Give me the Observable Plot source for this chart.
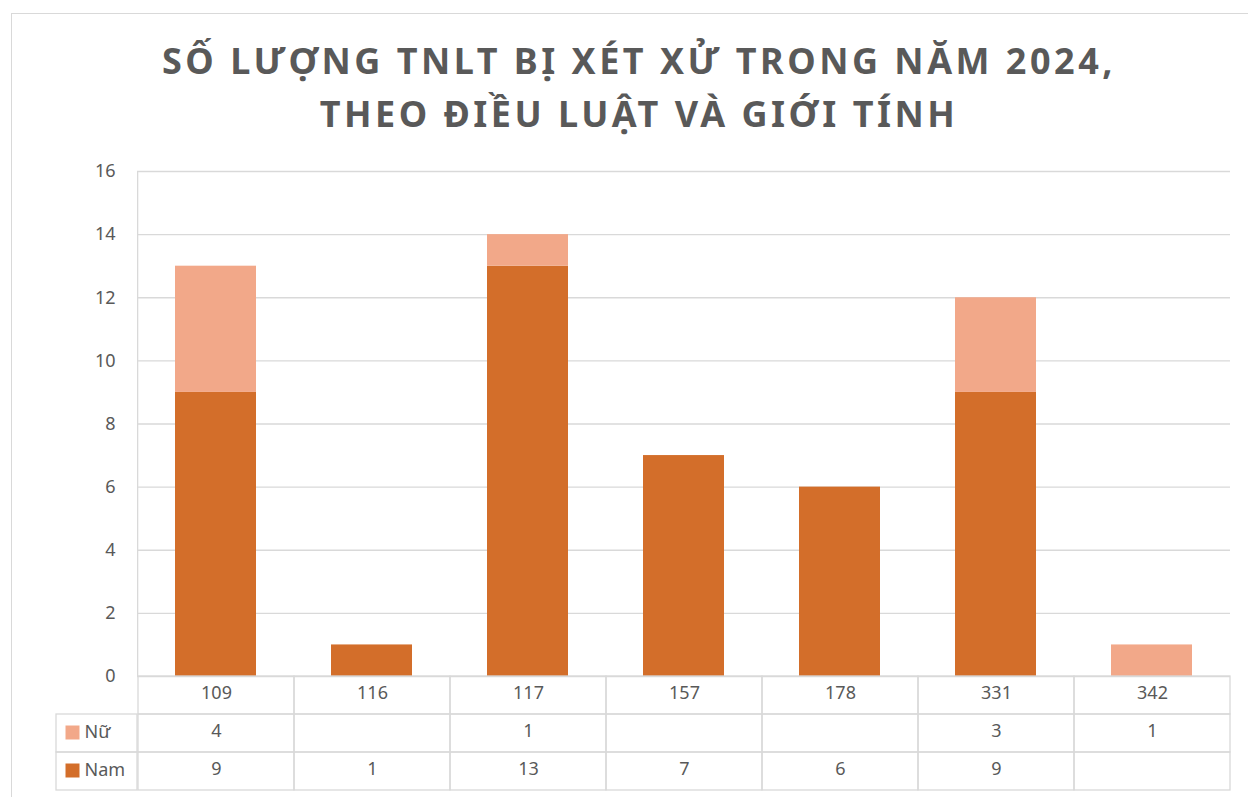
<!DOCTYPE html>
<html><head><meta charset="utf-8">
<script src="https://cdn.jsdelivr.net/npm/d3@7"></script>
<script src="https://cdn.jsdelivr.net/npm/@observablehq/plot@0.6"></script>
<style>
body{margin:0;background:#fff;width:1248px;height:797px;overflow:hidden;position:relative;font-family:"Noto Sans",sans-serif;}
#frame{position:absolute;left:11px;top:13px;width:1300px;height:900px;border:1px solid #d9d9d9;box-sizing:border-box;}
#title{position:absolute;left:0;top:34px;width:1278px;text-align:center;font-family:"Noto Sans",sans-serif;font-weight:bold;font-size:36px;line-height:53px;letter-spacing:3.5px;color:#595959;}
#chart{position:absolute;left:0;top:140px;}
#table{position:absolute;left:0;top:676px;}
svg{overflow:visible;}
</style>
</head><body>
<div id="frame"></div>
<div id="title">SỐ LƯỢNG TNLT BỊ XÉT XỬ TRONG NĂM 2024,<br>THEO ĐIỀU LUẬT VÀ GIỚI TÍNH</div>
<div id="chart"></div>
<div id="table"></div>
<script>
const categories = ["109","116","117","157","178","331","342"];
const namValues = [9, 1, 13, 7, 6, 9, null];
const nuValues = [4, null, 1, null, null, 3, 1];
const seriesNames = ["Nam", "Nữ"];
const seriesColors = ["#D36E2A", "#F2A889"];
const yTicks = [0, 2, 4, 6, 8, 10, 12, 14, 16];
const tableRows = ["header", "Nữ", "Nam"];
const legendRows = ["Nữ", "Nam"];

const bars = [];
categories.forEach((c, i) => {
  if (namValues[i] != null) bars.push({cat: c, series: "Nam", value: namValues[i]});
  if (nuValues[i] != null) bars.push({cat: c, series: "Nữ", value: nuValues[i]});
});

const W = 1248, ML = 137, MR = 18;
const frameW = W - ML - MR;
const gray = "#d9d9d9", textCol = "#595959";

const chart = Plot.plot({
  width: W, height: 537,
  marginLeft: ML, marginRight: MR, marginTop: 31, marginBottom: 1,
  style: {fontFamily: "Noto Sans", fontSize: "18px", background: "transparent"},
  x: {domain: categories, paddingInner: 0.48, paddingOuter: 0.24, axis: null},
  y: {domain: [0, 16], axis: null},
  color: {domain: seriesNames, range: seriesColors},
  marks: [
    Plot.gridY(yTicks, {stroke: gray, strokeOpacity: 1, strokeWidth: 1.3}),
    Plot.rect([0], {y1: 0, y2: 16, fill: gray, insetRight: frameW - 1.3}),
    Plot.axisY(yTicks, {tickSize: 0, tickPadding: 22, fontSize: 18, fill: textCol, label: null}),
    Plot.barY(bars, Plot.stackY({x: "cat", y: "value", fill: "series", order: seriesNames}))
  ]
});
document.getElementById("chart").appendChild(chart);

const cells = [];
categories.forEach((c, i) => {
  cells.push({cat: c, row: "header", text: c});
  cells.push({cat: c, row: "Nữ", text: nuValues[i] == null ? "" : String(nuValues[i])});
  cells.push({cat: c, row: "Nam", text: namValues[i] == null ? "" : String(namValues[i])});
});

const table = Plot.plot({
  width: W, height: 115,
  marginLeft: ML, marginRight: MR, marginTop: 0, marginBottom: 1,
  style: {fontFamily: "Noto Sans", fontSize: "18px", background: "transparent"},
  x: {domain: categories, padding: 0, axis: null},
  y: {domain: tableRows, padding: 0, axis: null},
  color: {domain: seriesNames, range: seriesColors},
  marks: [
    Plot.cell(cells, {x: "cat", y: "row", fill: "none", stroke: gray, strokeWidth: 1.3, inset: 0}),
    Plot.cell(legendRows, {y: d => d, fill: "none", stroke: gray, strokeWidth: 1.3, insetLeft: -81, insetRight: frameW}),
    Plot.dot(legendRows, {y: d => d, fill: d => d, symbol: "square", r: 7.9, frameAnchor: "left", dx: -65, dy: -1}),
    Plot.text(legendRows, {y: d => d, text: d => d, frameAnchor: "left", dx: -53, dy: -1, textAnchor: "start", fontSize: 18, fill: textCol}),
    Plot.text(cells.filter(d => d.text !== ""), {x: "cat", y: "row", text: "text", fontSize: 18, fill: textCol, dy: -2})
  ]
});
document.getElementById("table").appendChild(table);
</script>
</body></html>
